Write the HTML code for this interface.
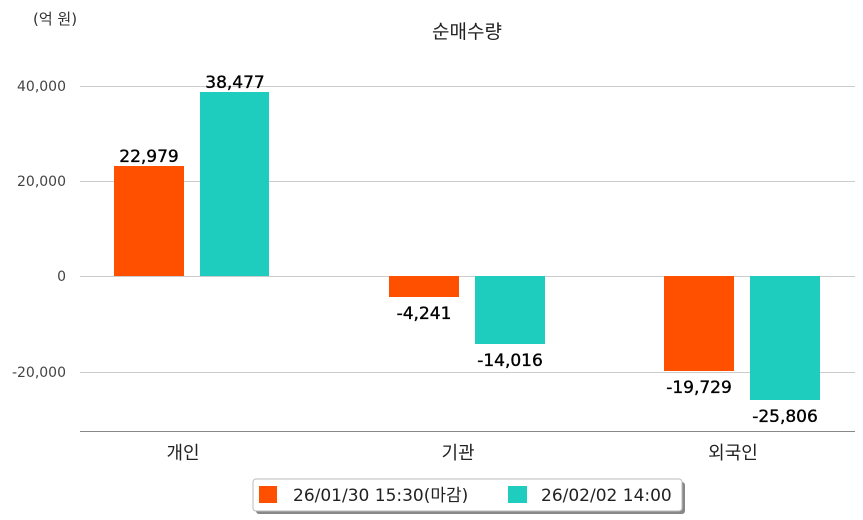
<!DOCTYPE html>
<html><head><meta charset="utf-8"><style>
html,body{margin:0;padding:0;background:#fff}
svg{display:block;font-family:"DejaVu Sans","Noto Sans CJK KR",sans-serif}
</style></head><body>
<svg width="863" height="520" viewBox="0 0 863 520">
<text x="33" y="24" font-size="15" fill="#333">(억 원)</text>
<text x="467" y="38" font-size="19" fill="#222" text-anchor="middle">순매수량</text>
<g stroke="#ccc" stroke-width="1">
<line x1="80" y1="86.5" x2="855" y2="86.5"/>
<line x1="80" y1="181.5" x2="855" y2="181.5"/>
<line x1="80" y1="276.5" x2="855" y2="276.5"/>
<line x1="80" y1="372.5" x2="855" y2="372.5"/>
</g>
<line x1="80" y1="431.5" x2="855" y2="431.5" stroke="#888" stroke-width="1"/>
<g font-size="14" fill="#444" text-anchor="end">
<text x="66" y="91">40,000</text>
<text x="66" y="186">20,000</text>
<text x="66" y="281">0</text>
<text x="66" y="377">-20,000</text>
</g>
<g fill="#ff5000">
<rect x="114" y="166" width="70" height="110"/>
<rect x="389" y="276" width="70" height="21"/>
<rect x="664" y="276" width="70" height="95"/>
</g>
<g fill="#1ecdbd">
<rect x="200" y="92" width="69" height="184"/>
<rect x="475" y="276" width="70" height="68"/>
<rect x="750" y="276" width="70" height="124"/>
</g>
<g font-size="17" fill="#000" text-anchor="middle" stroke="#000" stroke-width="0.35">
<text x="149" y="162">22,979</text>
<text x="235" y="88">38,477</text>
<text x="424" y="319">-4,241</text>
<text x="510" y="366">-14,016</text>
<text x="699" y="393">-19,729</text>
<text x="785" y="422">-25,806</text>
</g>
<g font-size="18" fill="#222" text-anchor="middle">
<text x="183" y="459">개인</text>
<text x="458" y="459">기관</text>
<text x="733" y="459">외국인</text>
</g>
<rect x="256" y="482" width="429" height="32" rx="3" fill="#888"/>
<rect x="253" y="479" width="429" height="32" rx="3" fill="#fff" stroke="#bbb"/>
<rect x="259" y="486" width="18" height="17" fill="#ff5000"/>
<text x="293" y="501" font-size="17" fill="#222">26/01/30 15:30(마감)</text>
<rect x="508" y="486" width="19" height="17" fill="#1ecdbd"/>
<text x="541" y="501" font-size="17" fill="#222">26/02/02 14:00</text>
</svg>
</body></html>
